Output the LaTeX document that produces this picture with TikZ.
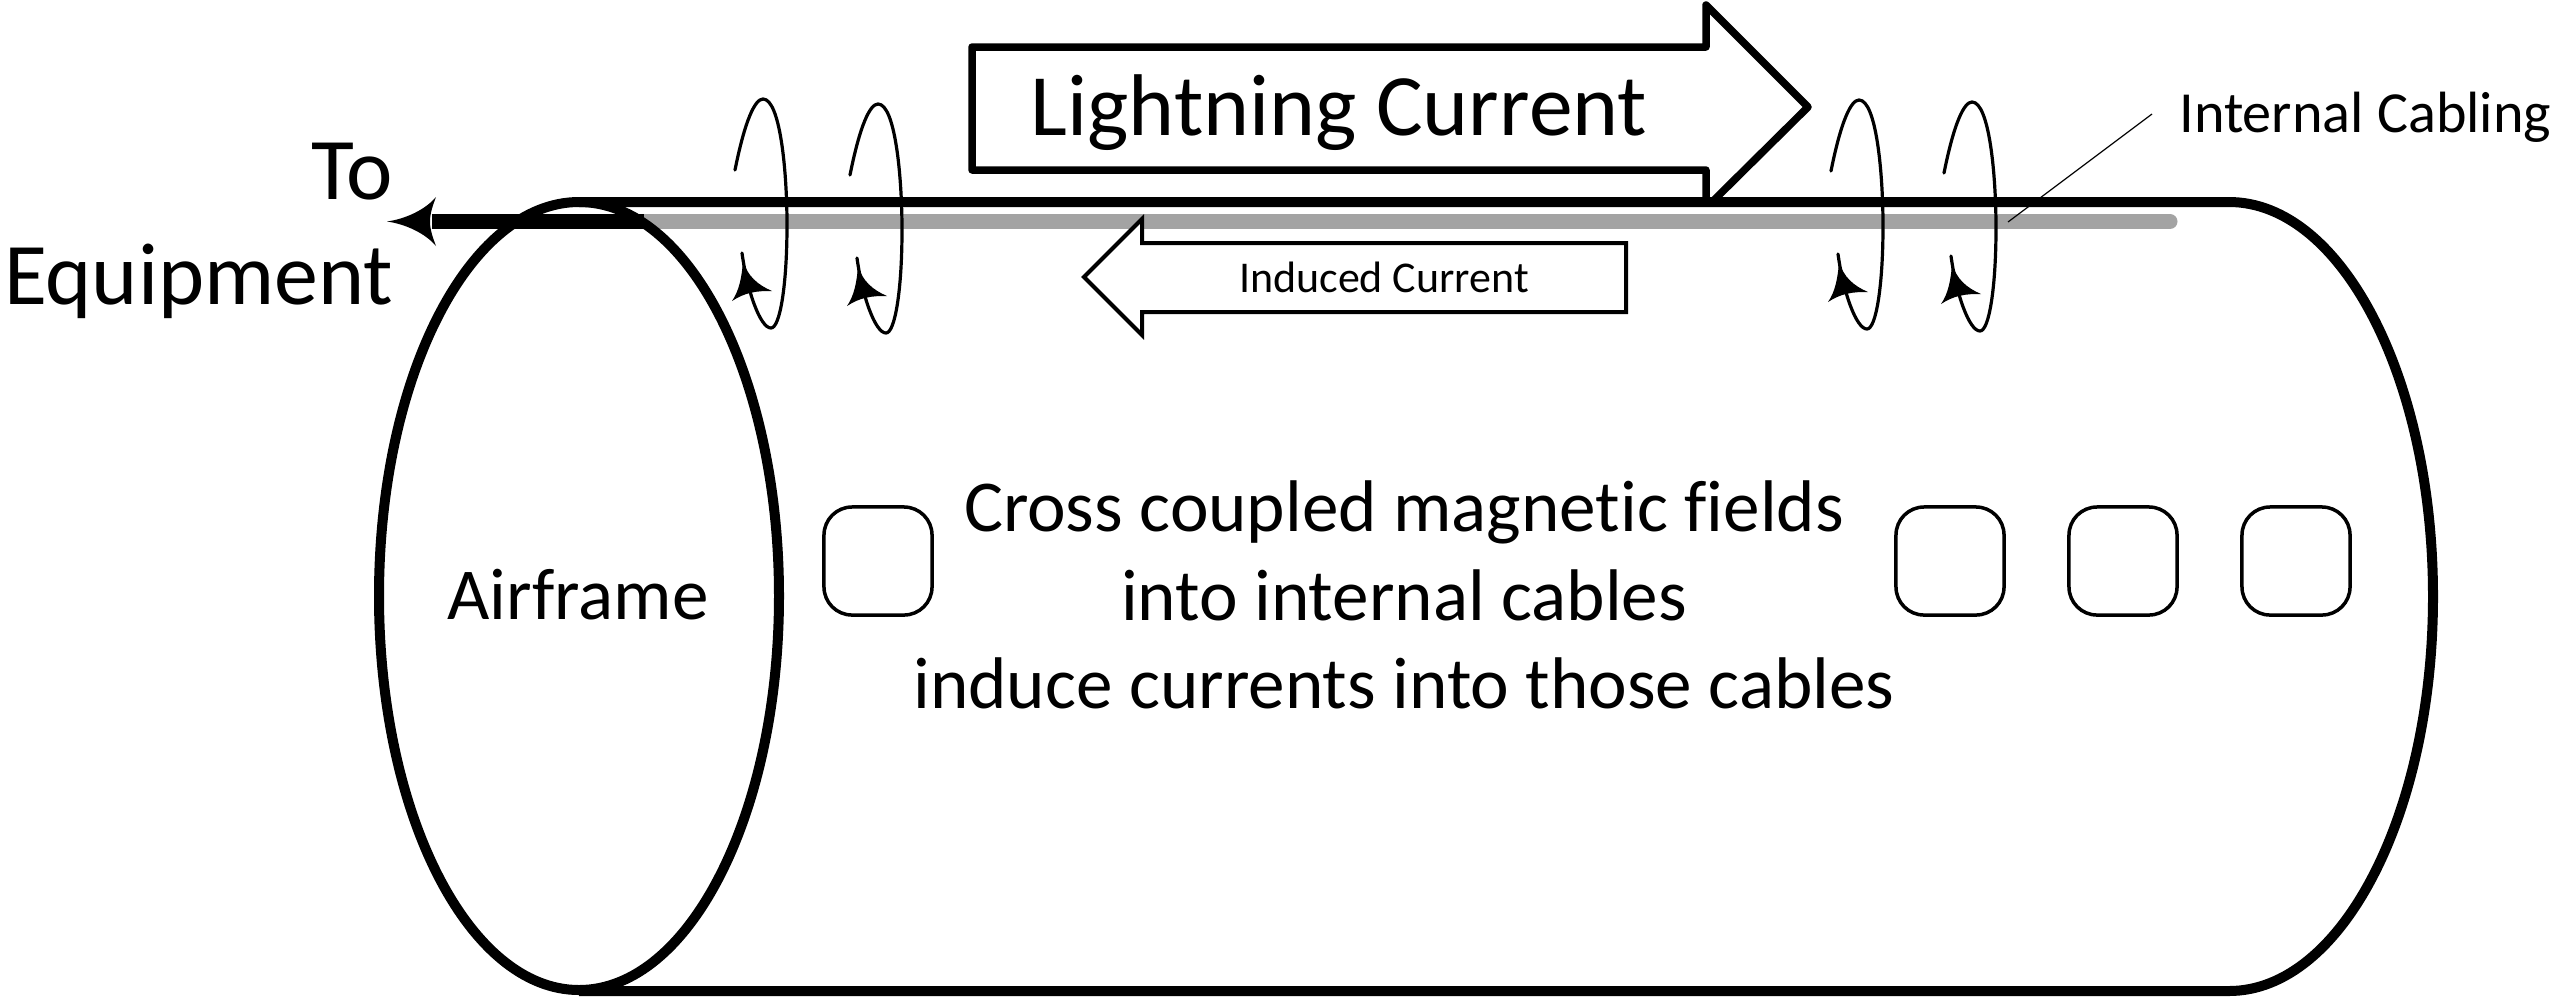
\documentclass[tikz,border=0pt]{standalone}
\usepackage{fontspec}
\setmainfont{Carlito}[Ligatures=CommonOff]
\usetikzlibrary{positioning}
\tikzset{
    hull/.style={
           draw=black,
           line width=10*0.2845pt,
           },
    cable/.style={
           draw=black!36,
           line width=15*0.2845pt,
           line cap=round,
           },
    feed/.style={
           draw=black,
           line width=15*0.2845pt,
           },
    bigarrow/.style={
           draw=black,
           line width=7.5*0.2845pt,
           line join=round,
           },
    smallarrow/.style={
           draw=black,
           fill=white,
           line width=4*0.2845pt,
           },
    portwin/.style={
           draw=black,
           line width=3.5*0.2845pt,
           rounded corners=8pt,
           minimum width=1.08cm,
           minimum height=1.08cm,
           inner sep=0,
           },
    coil/.style={
           draw=black,
           line width=3.2*0.2845pt,
           line cap=round,
           },
    tiphead/.style={
           fill=black,
           draw=none,
           },
    pil/.style={
           draw=black,
           line width=1.2*0.2845pt,
           },
    lbl/.style={
           inner sep=0,
           align=center,
           },
}

\begin{document}
\begin{tikzpicture}[x=0.01cm,y=-0.01cm]
\useasboundingbox (0,0) rectangle (2560,999);
% cable first, the rest goes on top
\coordinate (c1) at (644,221.5);
\coordinate (c2) at (2170,221.5);
\coordinate (c3) at (432,221.5);
\draw[cable] (c1) -- (c2);
\draw[feed] (c3) -- (c1);
\fill[tiphead] (387,221.5) .. controls (405,219) and (425,210) .. (436,197)
   .. controls (433,205) and (430,213) .. (430,221.5)
   .. controls (430,230) and (433,238) .. (436,246)
   .. controls (425,233) and (405,224) .. cycle;
% airframe
\draw[hull] (579,596) ellipse (200 and 394);
\draw[hull] (579,202) -- (2229,202) arc[start angle=-90,end angle=90,x radius=204,y radius=394.5] -- (579,991);
% lightning arrow
\draw[bigarrow] (1712,202) -- (1808,107) -- (1706,5) -- (1706,47) -- (972,47) -- (972,170) -- (1706,170) -- (1706,202);
% induced arrow
\draw[smallarrow] (1626,243) -- (1142,243) -- (1142,219) -- (1084,277) -- (1142,335) -- (1142,312) -- (1626,312) -- cycle;
% field loops
\foreach \cx/\cy in {0/0,115/5,1096/1,1209/3}{
\begin{scope}[shift={(\cx,\cy)}]
\draw[coil] (735,170) .. controls (745,120) and (755,99) .. (763,99)
   .. controls (780,99) and (787,170) .. (787,225)
   .. controls (787,285) and (780,328) .. (771,328)
   .. controls (760,328) and (747,290) .. (742,253);
\fill[tiphead] (743,260) .. controls (747,276) and (758,285) .. (772,291)
   .. controls (765,291) and (757,291) .. (750,293)
   .. controls (745,294) and (738,297) .. (732,301)
   .. controls (739,291) and (742,277) .. cycle;
\end{scope}
}
% windows
\node[portwin] (w1) at (878,561) {};
\node[portwin] (w2) at (1950,561) {};
\node[portwin] (w3) at (2123,561) {};
\node[portwin] (w4) at (2296,561) {};
% text
\node[lbl,font=\fontsize{24.9}{25}\selectfont] (lc) at (1339,113) {Lightning Current};
\node[lbl,font=\fontsize{12.5}{14}\selectfont] (ic) at (1384,277) {Induced Current};
\node[lbl,font=\fontsize{16.55}{17}\selectfont,anchor=east] (ca) at (2552,117) {Internal Cabling};
\node[lbl,font=\fontsize{25}{25}\selectfont,anchor=east] (to) at (394,172) {To};
\node[lbl,font=\fontsize{25}{25}\selectfont,anchor=east] (eq) at (394,281) {Equipment};
\node[lbl,font=\fontsize{20.8}{25}\selectfont] (af) at (578,595) {Airframe};
\node[lbl,font=\fontsize{20.8}{25}\selectfont] (t1) at (1404,512) {Cross coupled magnetic fields};
\node[lbl,font=\fontsize{20.8}{25}\selectfont] (t2) at (1404,595) {into internal cables};
\node[lbl,font=\fontsize{20.8}{25}\selectfont] (t3) at (1404,683) {induce currents into those cables};
% leader
\coordinate (l1) at (2152,114);
\coordinate (l2) at (2008,222);
\draw[pil] (l1) -- (l2);
\end{tikzpicture}
\end{document}
